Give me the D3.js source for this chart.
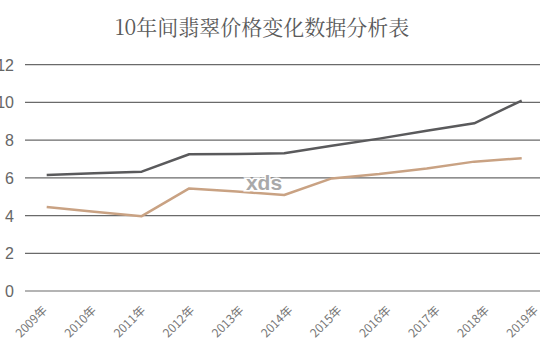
<!DOCTYPE html>
<html>
<head>
<meta charset="utf-8">
<script src="https://cdn.jsdelivr.net/npm/d3@7"></script>
<style>
  body { margin: 0; background: #fff; }
  svg { display: block; }
</style>
</head>
<body>
<div id="chart"></div>
<script>
var years = ["2009年", "2010年", "2011年", "2012年", "2013年", "2014年", "2015年", "2016年", "2017年", "2018年", "2019年"];
var darkValues = [6.15, 6.24, 6.33, 7.25, 7.27, 7.3, 7.7, 8.08, 8.5, 8.89, 10.1];
var tanValues = [4.45, 4.2, 3.97, 5.44, 5.27, 5.09, 5.97, 6.2, 6.5, 6.86, 7.04];
var yTicks = [0, 2, 4, 6, 8, 10, 12];

var width = 543,
    height = 360;

var svg = d3.select('#chart').append('svg')
    .attr('width', width)
    .attr('height', height);

var x = d3.scalePoint()
    .domain(years)
    .range([46.7, 521.7]);

// labels sit on a slightly wider spread than the points
var xLabel = d3.scalePoint()
    .domain(years)
    .range([48, 539]);

var y = d3.scaleLinear()
    .domain([0, 12])
    .range([291, 64.7]);

// title
svg.append('text')
    .attr('x', 262)
    .attr('y', 35)
    .attr('text-anchor', 'middle')
    .style('font-family', '"Noto Serif CJK SC", "Noto Sans CJK SC", serif')
    .style('font-size', '21px')
    .style('fill', '#5a5a5a')
    .text('10年间翡翠价格变化数据分析表');

// gridlines
svg.append('g').selectAll('line')
    .data(yTicks).enter()
    .append('line')
    .attr('x1', 25)
    .attr('x2', 540)
    .attr('y1', function (d) { return y(d); })
    .attr('y2', function (d) { return y(d); })
    .attr('stroke', '#6a6a6a')
    .attr('stroke-width', 1.2);

// y labels
svg.append('g').selectAll('text')
    .data(yTicks).enter()
    .append('text')
    .attr('x', 14)
    .attr('y', function (d) { return y(d) + 6; })
    .attr('text-anchor', 'end')
    .style('font-family', '"Liberation Sans", Arial, sans-serif')
    .style('font-size', '16px')
    .style('fill', '#666')
    .text(function (d) { return d; });

// x labels
svg.append('g').selectAll('text')
    .data(years).enter()
    .append('text')
    .attr('transform', function (d) { return 'translate(' + xLabel(d) + ',311) rotate(-45)'; })
    .attr('text-anchor', 'end')
    .style('font-family', '"Noto Sans CJK SC", sans-serif')
    .style('font-size', '12px')
    .style('fill', '#777')
    .text(function (d) { return d; });

var line = d3.line()
    .x(function (d, i) { return x(years[i]); })
    .y(function (d) { return y(d); });

svg.append('path')
    .datum(tanValues)
    .attr('d', line)
    .attr('fill', 'none')
    .attr('stroke', '#c9a283')
    .attr('stroke-width', 2.5)
    .attr('stroke-linejoin', 'round');

svg.append('path')
    .datum(darkValues)
    .attr('d', line)
    .attr('fill', 'none')
    .attr('stroke', '#5a5a5c')
    .attr('stroke-width', 2.5)
    .attr('stroke-linejoin', 'round');

// watermark
svg.append('text')
    .attr('x', 264)
    .attr('y', 190)
    .attr('text-anchor', 'middle')
    .style('font-family', '"Liberation Sans", Arial, sans-serif')
    .style('font-size', '21px')
    .style('font-weight', 'bold')
    .style('fill', '#a9a9a9')
    .style('stroke', '#fff')
    .style('stroke-width', 3)
    .style('paint-order', 'stroke')
    .text('xds');
</script>
</body>
</html>
